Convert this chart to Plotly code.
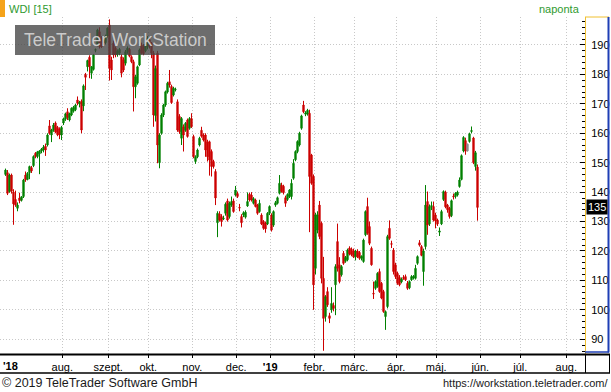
import pandas as pd
import plotly.graph_objects as go

# ---------------- data: daily OHLC rows (open, high, low, close) ----------------
jun18 = [
    (146.0, 148.0, 145.5, 147.5), (146.6, 147.5, 139.0, 139.6), (140.2, 146.3, 139.8, 145.8),
    (145.8, 146.3, 139.5, 140.3), (140.0, 141.0, 128.9, 136.0), (137.5, 140.5, 135.0, 135.6),
]
jul18 = [
    (134.5, 136.5, 133.5, 135.6), (138.0, 139.8, 136.2, 137.1), (137.2, 138.6, 136.8, 138.4),
    (138.5, 144.5, 138.0, 144.1), (145.8, 147.0, 143.5, 144.2), (144.3, 146.8, 144.0, 146.4),
    (146.6, 149.0, 144.4, 148.7), (148.3, 148.9, 146.5, 147.2), (149.0, 152.5, 148.5, 152.1),
    (153.2, 153.6, 151.5, 152.1), (152.1, 154.0, 151.5, 153.7), (153.0, 154.3, 146.1, 154.0),
    (154.0, 155.0, 153.2, 154.6), (154.3, 156.0, 153.5, 155.3), (155.6, 156.5, 152.3, 154.3),
    (156.0, 160.0, 155.5, 159.4), (162.5, 164.5, 159.5, 160.0), (159.4, 161.5, 157.0, 161.1),
    (161.0, 163.5, 160.5, 162.8), (163.5, 164.0, 160.0, 160.4), (162.0, 162.5, 159.0, 159.5),
    (161.5, 162.0, 158.0, 159.4),
]
aug18 = [
    (159.4, 162.5, 157.7, 162.0), (163.5, 165.3, 162.8, 164.9), (164.8, 167.0, 164.2, 166.6),
    (167.3, 168.5, 164.5, 165.3), (164.5, 167.0, 164.0, 166.7), (166.2, 168.8, 165.8, 168.5),
    (167.5, 169.3, 167.0, 168.8), (168.0, 170.0, 167.5, 169.6), (171.3, 172.5, 169.5, 170.2),
    (170.0, 171.0, 168.8, 170.5), (170.9, 171.5, 160.0, 161.1), (169.3, 176.6, 167.5, 176.1),
    (180.0, 180.5, 174.7, 179.0), (182.6, 185.0, 181.0, 184.7), (185.8, 186.5, 178.7, 182.6),
    (180.4, 182.8, 178.5, 182.6), (181.7, 186.8, 181.3, 186.6), (188.2, 188.8, 187.5, 188.4),
    (190.0, 195.5, 189.5, 195.1), (194.5, 196.0, 188.8, 189.4), (192.3, 193.0, 189.0, 189.4),
    (191.6, 192.5, 190.0, 190.6), (190.8, 193.5, 190.2, 193.0),
]
sep18 = [
    (193.0, 196.0, 192.5, 195.7), (196.8, 198.7, 177.9, 182.1), (184.9, 186.0, 178.1, 181.5),
    (190.6, 191.5, 185.5, 186.6), (188.9, 189.5, 185.8, 186.6), (186.8, 188.5, 186.0, 188.0),
    (187.2, 189.0, 186.5, 188.5), (186.0, 186.8, 179.0, 180.4), (185.0, 185.8, 180.8, 181.5),
    (183.8, 188.3, 183.0, 187.7), (187.7, 189.5, 187.0, 188.9), (188.5, 189.0, 185.8, 186.2),
    (186.0, 186.5, 183.8, 184.3), (184.3, 185.0, 167.4, 175.8), (175.8, 179.8, 171.9, 179.2),
    (177.0, 183.0, 176.5, 182.6), (183.2, 188.8, 182.8, 188.3), (190.0, 190.8, 186.8, 187.2),
    (189.5, 190.3, 186.5, 187.0), (188.0, 190.5, 187.5, 190.2),
]
oct18 = [
    (189.4, 193.0, 188.5, 192.3), (191.8, 192.5, 188.8, 189.6), (190.6, 191.0, 185.5, 187.2),
    (187.2, 188.0, 162.2, 166.2), (166.0, 183.0, 164.0, 182.0), (187.2, 188.0, 149.8, 156.0),
    (150.0, 160.0, 148.1, 159.4), (160.0, 166.8, 159.5, 166.2), (166.2, 170.0, 165.5, 169.6),
    (169.6, 174.5, 169.0, 174.1), (174.0, 177.5, 173.5, 177.0), (177.5, 181.5, 175.5, 176.4),
    (175.9, 176.5, 170.0, 170.4), (173.0, 175.8, 172.5, 175.3), (174.8, 175.5, 174.2, 174.9),
    (170.7, 171.5, 160.5, 161.1), (165.7, 166.5, 159.8, 160.5), (158.3, 165.5, 156.0, 165.0),
    (162.2, 163.0, 153.8, 159.4), (161.0, 163.8, 160.5, 163.4), (164.5, 165.0, 158.5, 158.9),
    (161.7, 165.5, 161.2, 165.0),
]
nov18 = [
    (165.0, 166.8, 161.8, 162.2), (158.9, 159.5, 151.5, 152.0), (150.4, 152.5, 149.6, 152.0),
    (152.0, 154.8, 151.5, 154.3), (156.0, 158.8, 155.5, 158.3), (161.0, 162.2, 158.5, 159.0),
    (159.4, 160.0, 157.2, 157.7), (159.4, 160.0, 152.0, 154.3), (157.1, 157.8, 150.4, 152.0),
    (157.1, 157.5, 145.6, 150.9), (153.8, 154.5, 145.3, 148.7), (150.4, 151.0, 148.0, 148.7),
    (147.0, 147.8, 135.6, 138.0), (129.6, 133.5, 124.7, 132.8), (132.6, 133.5, 130.0, 130.5),
    (131.7, 132.5, 128.3, 130.0), (130.9, 132.0, 130.5, 131.1), (132.8, 136.5, 132.0, 135.9),
    (137.0, 137.8, 130.0, 130.5), (131.7, 136.8, 131.0, 136.2), (135.6, 138.5, 135.0, 136.8),
    (137.0, 137.8, 133.0, 133.4),
]
dec18 = [
    (139.0, 142.1, 138.5, 140.7), (139.5, 140.2, 138.0, 138.5), (134.8, 136.0, 133.5, 134.6),
    (131.7, 132.5, 128.0, 129.6), (132.2, 133.5, 131.5, 133.0), (131.5, 133.8, 131.0, 133.2),
    (135.3, 139.9, 135.0, 136.8), (139.3, 139.8, 136.8, 137.3), (139.0, 140.0, 136.8, 137.3),
    (136.2, 138.3, 135.8, 137.8), (137.3, 137.8, 134.8, 135.1), (135.6, 136.0, 132.3, 132.8),
    (133.4, 137.4, 133.0, 136.2), (132.2, 132.8, 128.8, 129.2), (130.0, 130.5, 127.2, 127.7),
    (129.5, 130.0, 126.2, 127.5), (129.2, 133.2, 128.8, 132.8),
]
jan19 = [
    (132.8, 135.5, 132.2, 135.1), (132.2, 132.8, 126.6, 127.1), (128.8, 133.8, 128.2, 133.4),
    (135.6, 137.0, 135.0, 136.4), (136.2, 138.5, 135.8, 138.1), (139.6, 145.8, 139.2, 143.0),
    (142.4, 143.2, 139.8, 140.2), (142.0, 142.5, 139.2, 139.8), (138.1, 138.8, 135.0, 136.2),
    (137.5, 139.6, 137.0, 139.2), (138.5, 141.0, 138.0, 140.7), (138.5, 144.4, 137.5, 143.0),
    (144.7, 151.2, 144.2, 149.8), (151.0, 154.2, 150.5, 153.8), (153.8, 157.6, 153.2, 157.2),
    (156.0, 160.5, 155.5, 160.0), (161.7, 166.3, 161.2, 165.9), (169.6, 171.0, 166.8, 167.3),
    (166.5, 167.5, 165.8, 166.9), (166.5, 168.3, 166.0, 167.8), (166.8, 168.0, 126.4, 145.3),
    (152.6, 153.0, 142.5, 143.0),
]
feb19 = [
    (145.3, 146.0, 100.0, 108.5), (114.1, 133.0, 112.0, 132.3), (127.1, 133.5, 126.0, 132.3),
    (135.6, 137.0, 124.0, 124.9), (129.4, 130.0, 109.0, 110.7), (110.7, 118.0, 86.1, 97.1),
    (97.7, 105.0, 96.0, 104.5), (106.2, 107.7, 101.0, 101.7), (98.0, 99.0, 95.5, 97.1),
    (100.0, 107.7, 99.0, 102.2), (101.5, 102.5, 99.5, 100.5), (108.5, 115.5, 98.2, 114.7),
    (123.2, 129.3, 113.0, 114.1), (115.3, 117.9, 109.0, 109.6), (111.9, 115.2, 111.3, 114.7),
    (119.2, 120.0, 115.3, 115.8), (116.5, 118.3, 116.0, 117.8), (117.0, 120.8, 116.5, 120.3),
    (121.0, 121.6, 118.5, 119.0), (120.6, 121.2, 118.2, 118.7),
]
mar19 = [
    (120.0, 120.8, 117.6, 118.0), (118.0, 120.4, 116.8, 120.0), (120.0, 120.6, 117.6, 118.0),
    (119.5, 120.0, 117.0, 117.5), (117.5, 118.5, 116.8, 118.2), (116.4, 124.2, 116.0, 123.7),
    (125.5, 133.8, 125.0, 133.4), (135.1, 138.1, 125.5, 126.0), (128.3, 130.0, 122.0, 122.6),
    (120.9, 121.5, 115.0, 115.3), (105.6, 109.6, 103.7, 105.4), (107.3, 110.0, 106.8, 109.6),
    (107.9, 112.8, 107.5, 112.4), (113.0, 114.0, 105.8, 106.2), (109.0, 109.5, 103.6, 104.0),
    (106.2, 106.8, 99.0, 99.4), (97.7, 99.8, 93.2, 99.4), (101.1, 125.5, 100.5, 124.9),
    (127.7, 130.4, 123.8, 124.3), (122.5, 123.5, 121.0, 122.3), (120.3, 121.0, 112.0, 113.0),
]
apr19 = [
    (115.3, 116.0, 110.5, 111.3), (112.4, 113.0, 108.5, 109.0), (111.0, 111.8, 108.0, 108.5),
    (109.5, 111.0, 109.0, 110.5), (111.0, 111.8, 110.2, 110.7), (111.3, 112.0, 109.8, 110.2),
    (109.0, 109.8, 106.8, 107.3), (107.5, 110.0, 107.0, 109.6), (110.2, 111.8, 109.8, 111.3),
    (110.8, 111.8, 110.3, 111.4), (110.7, 115.3, 110.3, 114.1), (115.8, 118.5, 115.3, 118.1),
    (122.8, 123.7, 121.5, 122.0), (121.5, 122.0, 118.2, 118.5), (113.0, 120.8, 108.2, 120.0),
    (121.5, 142.4, 120.5, 135.6), (136.8, 140.2, 125.5, 128.8), (129.2, 135.8, 128.5, 135.1),
    (135.1, 136.8, 133.9, 135.4), (135.1, 136.8, 130.0, 130.5),
]
may19 = [
    (132.2, 133.0, 127.7, 130.2), (130.5, 131.0, 128.5, 129.2), (126.4, 128.0, 125.1, 126.8),
    (129.2, 134.0, 128.8, 133.4), (137.5, 140.6, 137.0, 140.2), (140.0, 140.5, 134.5, 135.0),
    (135.6, 136.0, 133.0, 134.0), (134.5, 135.0, 131.0, 131.7), (132.0, 137.5, 131.5, 137.1),
    (138.6, 139.5, 137.5, 138.4), (138.5, 140.0, 137.8, 139.6), (139.0, 140.5, 138.5, 140.0),
    (141.9, 145.0, 141.5, 144.1), (144.3, 152.8, 144.0, 152.4), (154.0, 159.0, 153.5, 158.6),
    (157.5, 158.5, 152.7, 153.9), (154.0, 156.5, 153.8, 156.3), (157.2, 160.2, 156.8, 159.8),
    (160.6, 162.3, 160.0, 160.9), (158.4, 158.8, 149.5, 150.0), (148.7, 154.0, 147.3, 153.4),
    (148.5, 149.4, 130.3, 134.8),
]
months = [("2018-06", jun18), ("2018-07", jul18), ("2018-08", aug18), ("2018-09", sep18),
          ("2018-10", oct18), ("2018-11", nov18), ("2018-12", dec18), ("2019-01", jan19),
          ("2019-02", feb19), ("2019-03", mar19), ("2019-04", apr19), ("2019-05", may19)]
unchanged_days = ["2019-05-24"]          # drawn grey
holidays = ["2018-10-03", "2018-12-24", "2018-12-25", "2018-12-26", "2018-12-31",
            "2019-01-01", "2019-04-19", "2019-04-22", "2019-05-01"]
tick_dates = ["2018-08-01", "2018-09-03", "2018-10-01", "2018-11-01", "2018-12-03", "2019-01-02",
              "2019-02-01", "2019-03-01", "2019-04-01", "2019-05-02", "2019-06-03", "2019-07-01",
              "2019-08-01"]
tick_text = ["aug.", "szept.", "okt.", "nov.", "dec.", "<b>'19</b>", "febr.", "márc.", "ápr.",
             "máj.", "jún.", "júl.", "aug."]
last_price = 135

# ---------------- build series ----------------
bdays = [d for d in pd.bdate_range("2018-06-22", "2019-05-31") if d.strftime("%Y-%m-%d") not in holidays]
X, O, H, L, C = [], [], [], [], []
gX, gO, gH, gL, gC = [], [], [], [], []
for ym, rows in months:
    mdays = [d for d in bdays if d.strftime("%Y-%m") == ym]
    for d, (o, h, l, c) in zip(mdays, rows):
        xx = d + pd.Timedelta(hours=12)
        if d.strftime("%Y-%m-%d") in unchanged_days:
            gX.append(xx); gO.append(o); gH.append(h); gL.append(l); gC.append(c)
        else:
            X.append(xx); O.append(o); H.append(h); L.append(l); C.append(c)

GREEN, RED = "#008000", "#cc0000"
fig = go.Figure()
fig.add_trace(go.Candlestick(
    x=X, open=O, high=H, low=L, close=C, whiskerwidth=0,
    increasing=dict(line=dict(color=GREEN, width=1), fillcolor=GREEN),
    decreasing=dict(line=dict(color=RED, width=1), fillcolor=RED),
    hoverinfo="skip"))
fig.add_trace(go.Candlestick(
    x=gX, open=gO, high=gH, low=gL, close=gC, whiskerwidth=0,
    increasing=dict(line=dict(color="#8c8c8c", width=1), fillcolor="#8c8c8c"),
    decreasing=dict(line=dict(color="#8c8c8c", width=1), fillcolor="#8c8c8c"),
    hoverinfo="skip"))

W, Hh = 611, 392
PL, PR, PT, PB = 0, 585, 17, 354
def px(x): return (x - PL) / (PR - PL)
def py(y): return (PB - y) / (PB - PT)

shapes = [
    dict(type="rect", xref="paper", yref="paper", x0=px(0), x1=px(5), y0=py(0), y1=py(17),
         fillcolor="#f5a31a", line=dict(width=0)),
    dict(type="rect", xref="paper", yref="paper", x0=px(15), x1=px(215), y0=py(25), y1=py(55),
         fillcolor="rgba(68,68,68,0.78)", line=dict(width=0), layer="above"),
    dict(type="line", xref="paper", yref="paper", x0=px(585), x1=px(609), y0=py(17), y1=py(17),
         line=dict(color="#f0c030", width=1)),
    dict(type="line", xref="paper", yref="paper", x0=px(608.5), x1=px(608.5), y0=py(17), y1=py(352.5),
         line=dict(color="#1f3fb5", width=2)),
    dict(type="line", xref="paper", yref="paper", x0=px(585), x1=px(609), y0=py(352), y1=py(352),
         line=dict(color="#1f3fb5", width=1.5)),
    dict(type="line", xref="paper", yref="paper", x0=px(0), x1=px(610), y0=py(354.5), y1=py(354.5),
         line=dict(color="black", width=2)),
    dict(type="line", xref="paper", yref="paper", x0=px(0), x1=px(610), y0=py(373), y1=py(373),
         line=dict(color="black", width=1.5)),
    dict(type="line", xref="paper", yref="paper", x0=px(585.5), x1=px(585.5), y0=py(354), y1=py(373),
         line=dict(color="black", width=1)),
    dict(type="line", xref="paper", yref="paper", x0=px(609.5), x1=px(609.5), y0=py(354), y1=py(373),
         line=dict(color="black", width=1)),
]

FONT = "Arial, 'Liberation Sans', sans-serif"
annotations = [
    dict(text="WDI [15]", xref="paper", yref="paper", x=px(7), y=py(9.5), xanchor="left", yanchor="middle",
         showarrow=False, font=dict(family=FONT, size=11, color="#2f9a2f")),
    dict(text="naponta", xref="paper", yref="paper", x=px(582), y=py(9.5), xanchor="right", yanchor="middle",
         showarrow=False, font=dict(family=FONT, size=11, color="#2f9a2f")),
    dict(text="<b>'18</b>", xref="paper", yref="paper", x=px(1), y=py(365.5), xanchor="left", yanchor="middle",
         showarrow=False, font=dict(family=FONT, size=11, color="black")),
    dict(text="© 2019 TeleTrader Software GmbH", xref="paper", yref="paper", x=px(0), y=py(382.5),
         xanchor="left", yanchor="middle", showarrow=False, font=dict(family=FONT, size=12.5, color="#1a1a1a")),
    dict(text="https://workstation.teletrader.com/", xref="paper", yref="paper", x=px(610), y=py(382.5),
         xanchor="right", yanchor="middle", showarrow=False, font=dict(family=FONT, size=11, color="#1a1a1a")),
    dict(text="TeleTrader WorkStation", xref="paper", yref="paper", x=px(115), y=py(40), xanchor="center",
         yanchor="middle", showarrow=False, font=dict(family=FONT, size=17.5, color="rgba(210,210,210,0.95)")),
    dict(text=str(last_price), xref="paper", yref="y", x=px(585), y=last_price, xanchor="left", yanchor="middle",
         showarrow=False, bgcolor="black", borderpad=1, xshift=1,
         font=dict(family=FONT, size=11, color="white")),
]

tickvals = [pd.Timestamp(t) + pd.Timedelta(hours=21) for t in tick_dates]
GRID = "#c8c8c8"
GRIDDASH = "1px,2px"

fig.update_layout(
    width=W, height=Hh, margin=dict(l=PL, r=W - PR, t=PT, b=Hh - PB, pad=0),
    paper_bgcolor="white", plot_bgcolor="white", showlegend=False, boxgap=0.1,
    font=dict(family=FONT, size=11, color="black"),
    shapes=shapes, annotations=annotations,
    xaxis=dict(type="date", range=["2018-06-19 18:00", "2019-08-15 06:00"],
               rangebreaks=[dict(bounds=["sat", "mon"]), dict(values=holidays)],
               rangeslider=dict(visible=False), tickmode="array", tickvals=tickvals, ticktext=tick_text,
               tickangle=0, showgrid=True, gridcolor=GRID, griddash=GRIDDASH, gridwidth=1,
               showline=False, ticks="outside", ticklen=3, tickcolor="black",
               tickfont=dict(family=FONT, size=11, color="black"), zeroline=False, fixedrange=True),
    yaxis=dict(side="right", range=[85, 199.5], tick0=0, dtick=10, showgrid=True, gridcolor=GRID,
               griddash=GRIDDASH, gridwidth=1, showline=True, linecolor="#f0c030", linewidth=1,
               ticks="inside", ticklen=5, tickcolor="black", ticklabelstandoff=3,
               minor=dict(dtick=2, tick0=0, ticks="inside", ticklen=3, tickcolor="black", showgrid=False),
               tickfont=dict(family=FONT, size=11, color="black"), zeroline=False, fixedrange=True),
)

fig.write_html(
    "out.html",
    config={"displayModeBar": False, "staticPlot": True},
    post_script="document.body.style.margin='0';document.body.style.padding='0';"
                "document.body.style.overflow='hidden';",
)
